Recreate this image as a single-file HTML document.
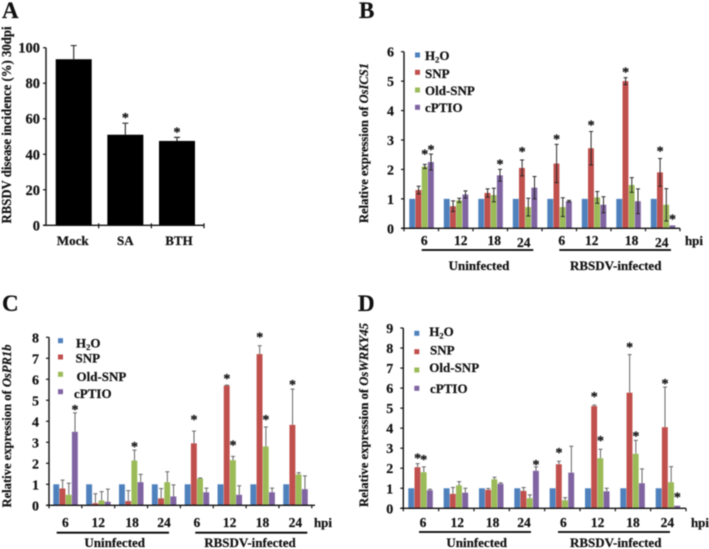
<!DOCTYPE html>
<html lang="en">
<head>
<meta charset="utf-8">
<title>RBSDV disease incidence and relative gene expression</title>
<style>
html,body{margin:0;padding:0;background:#fff;}
#figure{display:block;width:709px;height:549px;filter:blur(0.55px);}
text{font-family:"Liberation Serif",serif;font-weight:bold;fill:#111;stroke:#111;stroke-width:0.2px;}
</style>
</head>
<body>
<svg id="figure" xmlns="http://www.w3.org/2000/svg" width="709" height="549" viewBox="0 0 709 549">
<text x="2" y="18" font-size="23">A</text>
<text x="359" y="18" font-size="23">B</text>
<text x="2" y="311" font-size="23">C</text>
<text x="358" y="311" font-size="23">D</text>
</svg>
<script>
// ---------- Panel A data ----------
const aCategories = ['Mock', 'SA', 'BTH'];
const aValues = [93.5, 51, 47.5];
const aErrors = [7.7, 6.5, 2];
const aStars = [false, true, true];
const aTicks = [0, 20, 40, 60, 80, 100];

// ---------- Shared data for B, C, D ----------
const hours = ['6', '12', '18', '24', '6', '12', '18', '24'];
const seriesNames = ['H2O', 'SNP', 'Old-SNP', 'cPTIO'];
const seriesColors = ['#4f81bd', '#c0504d', '#9bbb59', '#8064a2'];

// ---------- Panel B data ----------
const bH2O = [1, 1, 1, 1, 1, 1, 1, 1];
const bSNP = [1.3, 0.75, 1.2, 2.05, 2.2, 2.72, 5, 1.9];
const bOld = [2.1, 0.95, 1.13, 0.72, 0.72, 1.05, 1.47, 0.8];
const bCptio = [2.25, 1.15, 1.8, 1.38, 0.92, 0.8, 0.92, 0.1];
const bSNPErr = [0.13, 0.18, 0.14, 0.27, 0.65, 0.57, 0.12, 0.47];
const bOldErr = [0.07, 0.07, 0.23, 0.3, 0.32, 0.2, 0.25, 0.55];
const bCptioErr = [0.27, 0.12, 0.2, 0.38, 0.03, 0.27, 0.42, 0];
const bStars = [[0, 2, 12], [0, 3, 6], [2, 3, 7], [3, 1, 10], [4, 1, 7], [5, 1, 8], [6, 1, 7], [7, 1, 9], [7, 3, 8]];
const bTicks = [0, 1, 2, 3, 4, 5, 6];

// ---------- Panel C data ----------
const cH2O = [1, 1, 1, 1, 1, 1, 1, 1];
const cSNP = [0.8, 0.1, 0.2, 0.33, 2.95, 5.7, 7.2, 3.83];
const cOld = [0.5, 0.23, 2.13, 1.1, 1.27, 2.15, 2.8, 1.47];
const cCptio = [3.5, 0.17, 1.1, 0.42, 0.62, 0.5, 0.62, 0.77];
const cSNPErr = [0.4, 0.45, 0.5, 0.47, 0.58, 0.02, 0.4, 1.7];
const cOldErr = [0.55, 0.42, 0.5, 0.5, 0.03, 0.18, 0.93, 0.08];
const cCptioErr = [0.9, 0.6, 0.37, 0.55, 0.2, 0.43, 0.2, 0.63];
const cStars = [[0, 3, 5], [2, 2, 5], [4, 1, 13], [5, 1, 8], [5, 2, 13], [6, 1, 10], [6, 2, 9], [7, 1, 6]];
const cTicks = [0, 1, 2, 3, 4, 5, 6, 7, 8];

// ---------- Panel D data ----------
const dH2O = [1, 1, 1, 1, 1, 1, 1, 1];
const dSNP = [2.05, 0.72, 0.92, 0.87, 2.2, 5.1, 5.77, 4.05];
const dOld = [1.8, 1.15, 1.45, 0.5, 0.4, 2.5, 2.72, 1.3];
const dCptio = [0.9, 0.78, 1.22, 1.87, 1.78, 0.85, 1.25, 0.13];
const dSNPErr = [0.18, 0.32, 0.07, 0.17, 0.15, 0.05, 1.9, 2];
const dOldErr = [0.27, 0.18, 0.1, 0.17, 0.13, 0.45, 0.67, 0.78];
const dCptioErr = [0.05, 0.22, 0.05, 0.2, 1.32, 0.15, 0.72, 0];
const dStars = [[0, 1, 7], [0, 2, 9], [3, 3, 4], [4, 1, 10], [5, 1, 10], [5, 2, 10], [6, 1, 9], [6, 2, 6], [7, 1, 5], [7, 3, 10]];
const dTicks = [0, 1, 2, 3, 4, 5, 6, 7, 8, 9];

const NS = 'http://www.w3.org/2000/svg';
const figure = document.getElementById('figure');

function svgEl(tag, attrs, parent) {
  const el = document.createElementNS(NS, tag);
  for (const k in attrs) el.setAttribute(k, attrs[k]);
  parent.appendChild(el);
  return el;
}

function drawAxes(g, o, yOf, ticks) {
  const yAxis = svgEl('line', {x1: o.x0, x2: o.x0, y1: yOf(ticks[ticks.length - 1]), y2: o.y0, stroke: '#111', 'stroke-width': 1.4}, g);
  
  
  const xAxis = svgEl('line', {x1: o.x0 - 3, x2: o.xEnd, y1: o.y0, y2: o.y0, stroke: '#111', 'stroke-width': 1.4}, g);
  
  
  ticks.forEach(function (t) {
    const mark = svgEl('line', {x1: o.x0 - 3, x2: o.x0, y1: yOf(t), y2: yOf(t), stroke: '#111', 'stroke-width': 1.2}, g);
    
    
    const label = svgEl('text', {x: o.x0 - o.tickGap, y: yOf(t) + 5, 'text-anchor': 'end', 'font-size': o.tickSize}, g);
    label.textContent = t;
    
    
  });
}

function drawYTitle(g, o) {
  const title = svgEl('text', {
    transform: 'translate(' + o.titleX + ',' + o.titleY + ') rotate(-90)',
    'text-anchor': 'middle', 'font-size': o.titleSize, textLength: o.titleLen, lengthAdjust: 'spacingAndGlyphs'
  }, g);
  
  
  title.appendChild(document.createTextNode(o.title));
  if (o.gene) {
    const gene = svgEl('tspan', {'font-style': 'italic'}, title);
    gene.textContent = o.gene;
  }
}

function drawStar(g, x, y) {
  const star = svgEl('text', {x: x, y: y, 'text-anchor': 'middle', 'font-size': 14}, g);
  star.textContent = '*';
  
  
}

function drawPanelA() {
  const o = {x0: 46, xEnd: 204, y0: 225.3, tickGap: 6, tickSize: 14.5, titleX: 11, titleY: 125, titleLen: 197, titleSize: 13.5,
             title: 'RBSDV disease incidence (%) 30dpi', barCw: 51.65, labelDx: [-1, 0, 2]};
  const g = svgEl('g', {}, figure);
  
  
  const maxY = aTicks[aTicks.length - 1];
  const yOf = function (v) { return o.y0 - v / maxY * 177.6; };
  const tw = (o.xEnd - o.x0) / aCategories.length;
  aCategories.forEach(function (c, i) {
    const bx = o.x0 + o.barCw * i + 9.7;
    const bar = svgEl('rect', {x: bx, y: yOf(aValues[i]), width: 36, height: o.y0 - yOf(aValues[i]), fill: '#000'}, g);
    
    
    const top = yOf(aValues[i] + aErrors[i]);
    const err = svgEl('path', {d: 'M' + (bx + 18) + ' ' + yOf(aValues[i]) + 'V' + top + 'M' + (bx + 15) + ' ' + top + 'H' + (bx + 21), stroke: '#333', 'stroke-width': 1.2, fill: 'none'}, g);
    
    
    if (aStars[i]) drawStar(g, bx + 18, top - 1);
    const label = svgEl('text', {x: bx + 18 + o.labelDx[i], y: 245, 'text-anchor': 'middle', 'font-size': 13}, g);
    label.textContent = c;
    
    
    const tick = svgEl('line', {x1: o.x0 + tw * (i + 1), x2: o.x0 + tw * (i + 1), y1: o.y0 - 2, y2: o.y0 + 3, stroke: '#111', 'stroke-width': 1.2}, g);
    
    
  });
  drawAxes(g, o, yOf, aTicks);
  drawYTitle(g, o);
}

function drawPanel(name, o, vals, errs, stars, ticks) {
  const g = svgEl('g', {}, figure);
  
  
  const maxY = ticks[ticks.length - 1];
  const yOf = function (v) { return o.y0 - v / maxY * o.plotH; };
  const barX = function (gi, si) { return o.x0 + o.cw * gi + o.pad + si * o.barW; };

  vals.forEach(function (series, si) {
    series.forEach(function (v, gi) {
      const bar = svgEl('rect', {x: barX(gi, si), y: yOf(v), width: o.barW - 0.3, height: o.y0 - yOf(v), fill: seriesColors[si]}, g);
      
      
    });
  });

  errs.forEach(function (series, k) {
    const si = k + 1;
    series.forEach(function (e, gi) {
      if (e <= 0) return;
      const v = vals[si][gi];
      const cx = barX(gi, si) + o.barW / 2;
      const top = yOf(v + e);
      const low = o.both ? yOf(Math.max(v - e, 0)) : yOf(v);
      const err = svgEl('path', {d: 'M' + cx + ' ' + low + 'V' + top + 'M' + (cx - 2) + ' ' + top + 'H' + (cx + 2) + (o.both ? 'M' + (cx - 2) + ' ' + low + 'H' + (cx + 2) : ''), stroke: o.errColor, 'stroke-width': 1, fill: 'none'}, g);
      
      
    });
  });

  stars.forEach(function (s) {
    const v = vals[s[1]][s[0]];
    const e = s[1] > 0 ? errs[s[1] - 1][s[0]] : 0;
    drawStar(g, barX(s[0], s[1]) + o.barW / 2, yOf(v + e) - s[2] + 6);
  });

  drawAxes(g, o, yOf, ticks);
  hours.forEach(function (h, i) {
    const tx = o.x0 + o.cw * i;
    const tick = svgEl('line', {x1: tx, x2: tx, y1: o.y0, y2: o.y0 + 3, stroke: '#111', 'stroke-width': 1.2}, g);
    
    
    const label = svgEl('text', {x: tx + o.cw / 2 + o.labelDx[i], y: o.labelY + o.labelDy[i], 'text-anchor': 'middle', 'font-size': 13.5}, g);
    label.textContent = h;
    
    
  });
  const tick = svgEl('line', {x1: o.x0 + o.cw * 8, x2: o.x0 + o.cw * 8, y1: o.y0, y2: o.y0 + 3, stroke: '#111', 'stroke-width': 1.2}, g);
  
  

  const hpi = svgEl('text', {x: o.hpiX, y: o.labelY, 'text-anchor': 'middle', 'font-size': 13}, g);
  hpi.textContent = 'hpi';
  
  

  const line1 = svgEl('line', {x1: o.line1[0], x2: o.line1[1], y1: o.lineY, y2: o.lineY, stroke: '#000', 'stroke-width': 1.8}, g);
  
  
  const line2 = svgEl('line', {x1: o.line2[0], x2: o.line2[1], y1: o.lineY, y2: o.lineY, stroke: '#000', 'stroke-width': 1.8}, g);
  
  

  const grp1 = svgEl('text', {x: o.group1X, y: o.groupY, 'text-anchor': 'middle', 'font-size': 13}, g);
  grp1.textContent = 'Uninfected';
  
  
  const grp2 = svgEl('text', {x: o.group2X, y: o.groupY, 'text-anchor': 'middle', 'font-size': 13}, g);
  grp2.textContent = 'RBSDV-infected';
  
  

  seriesNames.forEach(function (n, si) {
    const swatch = svgEl('rect', {x: o.legSwatchX, y: o.legY[si] - 2.5, width: 5, height: 5, fill: seriesColors[si]}, g);
    
    
    const text = svgEl('text', {x: o.legTextX[si], y: o.legTextY[si], 'font-size': 13}, g);
    
    
    const m = n.match(/^H(\d)O$/);
    if (m) {
      text.appendChild(document.createTextNode('H'));
      const sub = svgEl('tspan', {'font-size': 8.5, dy: 2.5}, text);
      sub.textContent = m[1];
      const rest = svgEl('tspan', {dy: -2.5}, text);
      rest.textContent = 'O';
    } else {
      text.textContent = n;
    }
  });

  drawYTitle(g, o);
}

drawPanelA();

drawPanel('panel-b', {
  x0: 404, xEnd: 680, y0: 228.3, plotH: 176.6, cw: 34.5, pad: 5.3, barW: 6.2, both: true, errColor: '#2b2b2b',
  tickGap: 10, tickSize: 14, title: 'Relative expression of ', gene: 'OsICS1', titleX: 368, titleY: 143, titleLen: 160, titleSize: 13,
  labelY: 245, labelDx: [3, 5, 4, -1, 2.5, -2, 3.4, -1], labelDy: [0, 0, 0, 2, 0, 0, 0, 2], hpiX: 694,
  line1: [421.7, 533.3], line2: [559.3, 671], lineY: 250, group1X: 479, group2X: 615.7, groupY: 270,
  legSwatchX: 415, legY: [55, 72.3, 90, 107.3], legTextX: [425, 425, 425, 425], legTextY: [60, 78, 95, 112]
}, [bH2O, bSNP, bOld, bCptio], [bSNPErr, bOldErr, bCptioErr], bStars, bTicks);

drawPanel('panel-c', {
  x0: 49, xEnd: 315, y0: 505.3, plotH: 168, cw: 32.85, pad: 4.3, barW: 6.2, both: false, errColor: '#666',
  tickGap: 10, tickSize: 14, title: 'Relative expression of ', gene: 'OsPR1b', titleX: 11, titleY: 426, titleLen: 163, titleSize: 13,
  labelY: 527, labelDx: [0, 0, 1, 0, 0, 0, 0, 0], labelDy: [0, 0, 0, 0, 0, 0, 0, 0], hpiX: 323,
  line1: [56.7, 169], line2: [195.3, 307.3], lineY: 532.7, group1X: 114.7, group2X: 250, groupY: 547,
  legSwatchX: 58, legY: [340.7, 357, 374.3, 391.7], legTextX: [76, 75.5, 76.5, 74], legTextY: [347.5, 362.5, 381, 398]
}, [cH2O, cSNP, cOld, cCptio], [cSNPErr, cOldErr, cCptioErr], cStars, cTicks);

drawPanel('panel-d', {
  x0: 403.3, xEnd: 686, y0: 508.3, plotH: 180.3, cw: 35.34, pad: 5, barW: 6.2, both: false, errColor: '#666',
  tickGap: 10, tickSize: 14, title: 'Relative expression of ', gene: 'OsWRKY45', titleX: 368, titleY: 415, titleLen: 184, titleSize: 13,
  labelY: 527, labelDx: [2, 1, 1, -3, 1, 0, 0, -1], labelDy: [0, 0, 0, 0, 0, 0, 0, 0], hpiX: 700,
  line1: [419, 531], line2: [558, 670], lineY: 532, group1X: 476.7, group2X: 615.7, groupY: 547,
  legSwatchX: 414.3, legY: [333.3, 351.7, 370, 388.3], legTextX: [429.3, 430, 429.3, 430], legTextY: [336, 354.5, 372, 393]
}, [dH2O, dSNP, dOld, dCptio], [dSNPErr, dOldErr, dCptioErr], dStars, dTicks);
</script>
</body>
</html>
